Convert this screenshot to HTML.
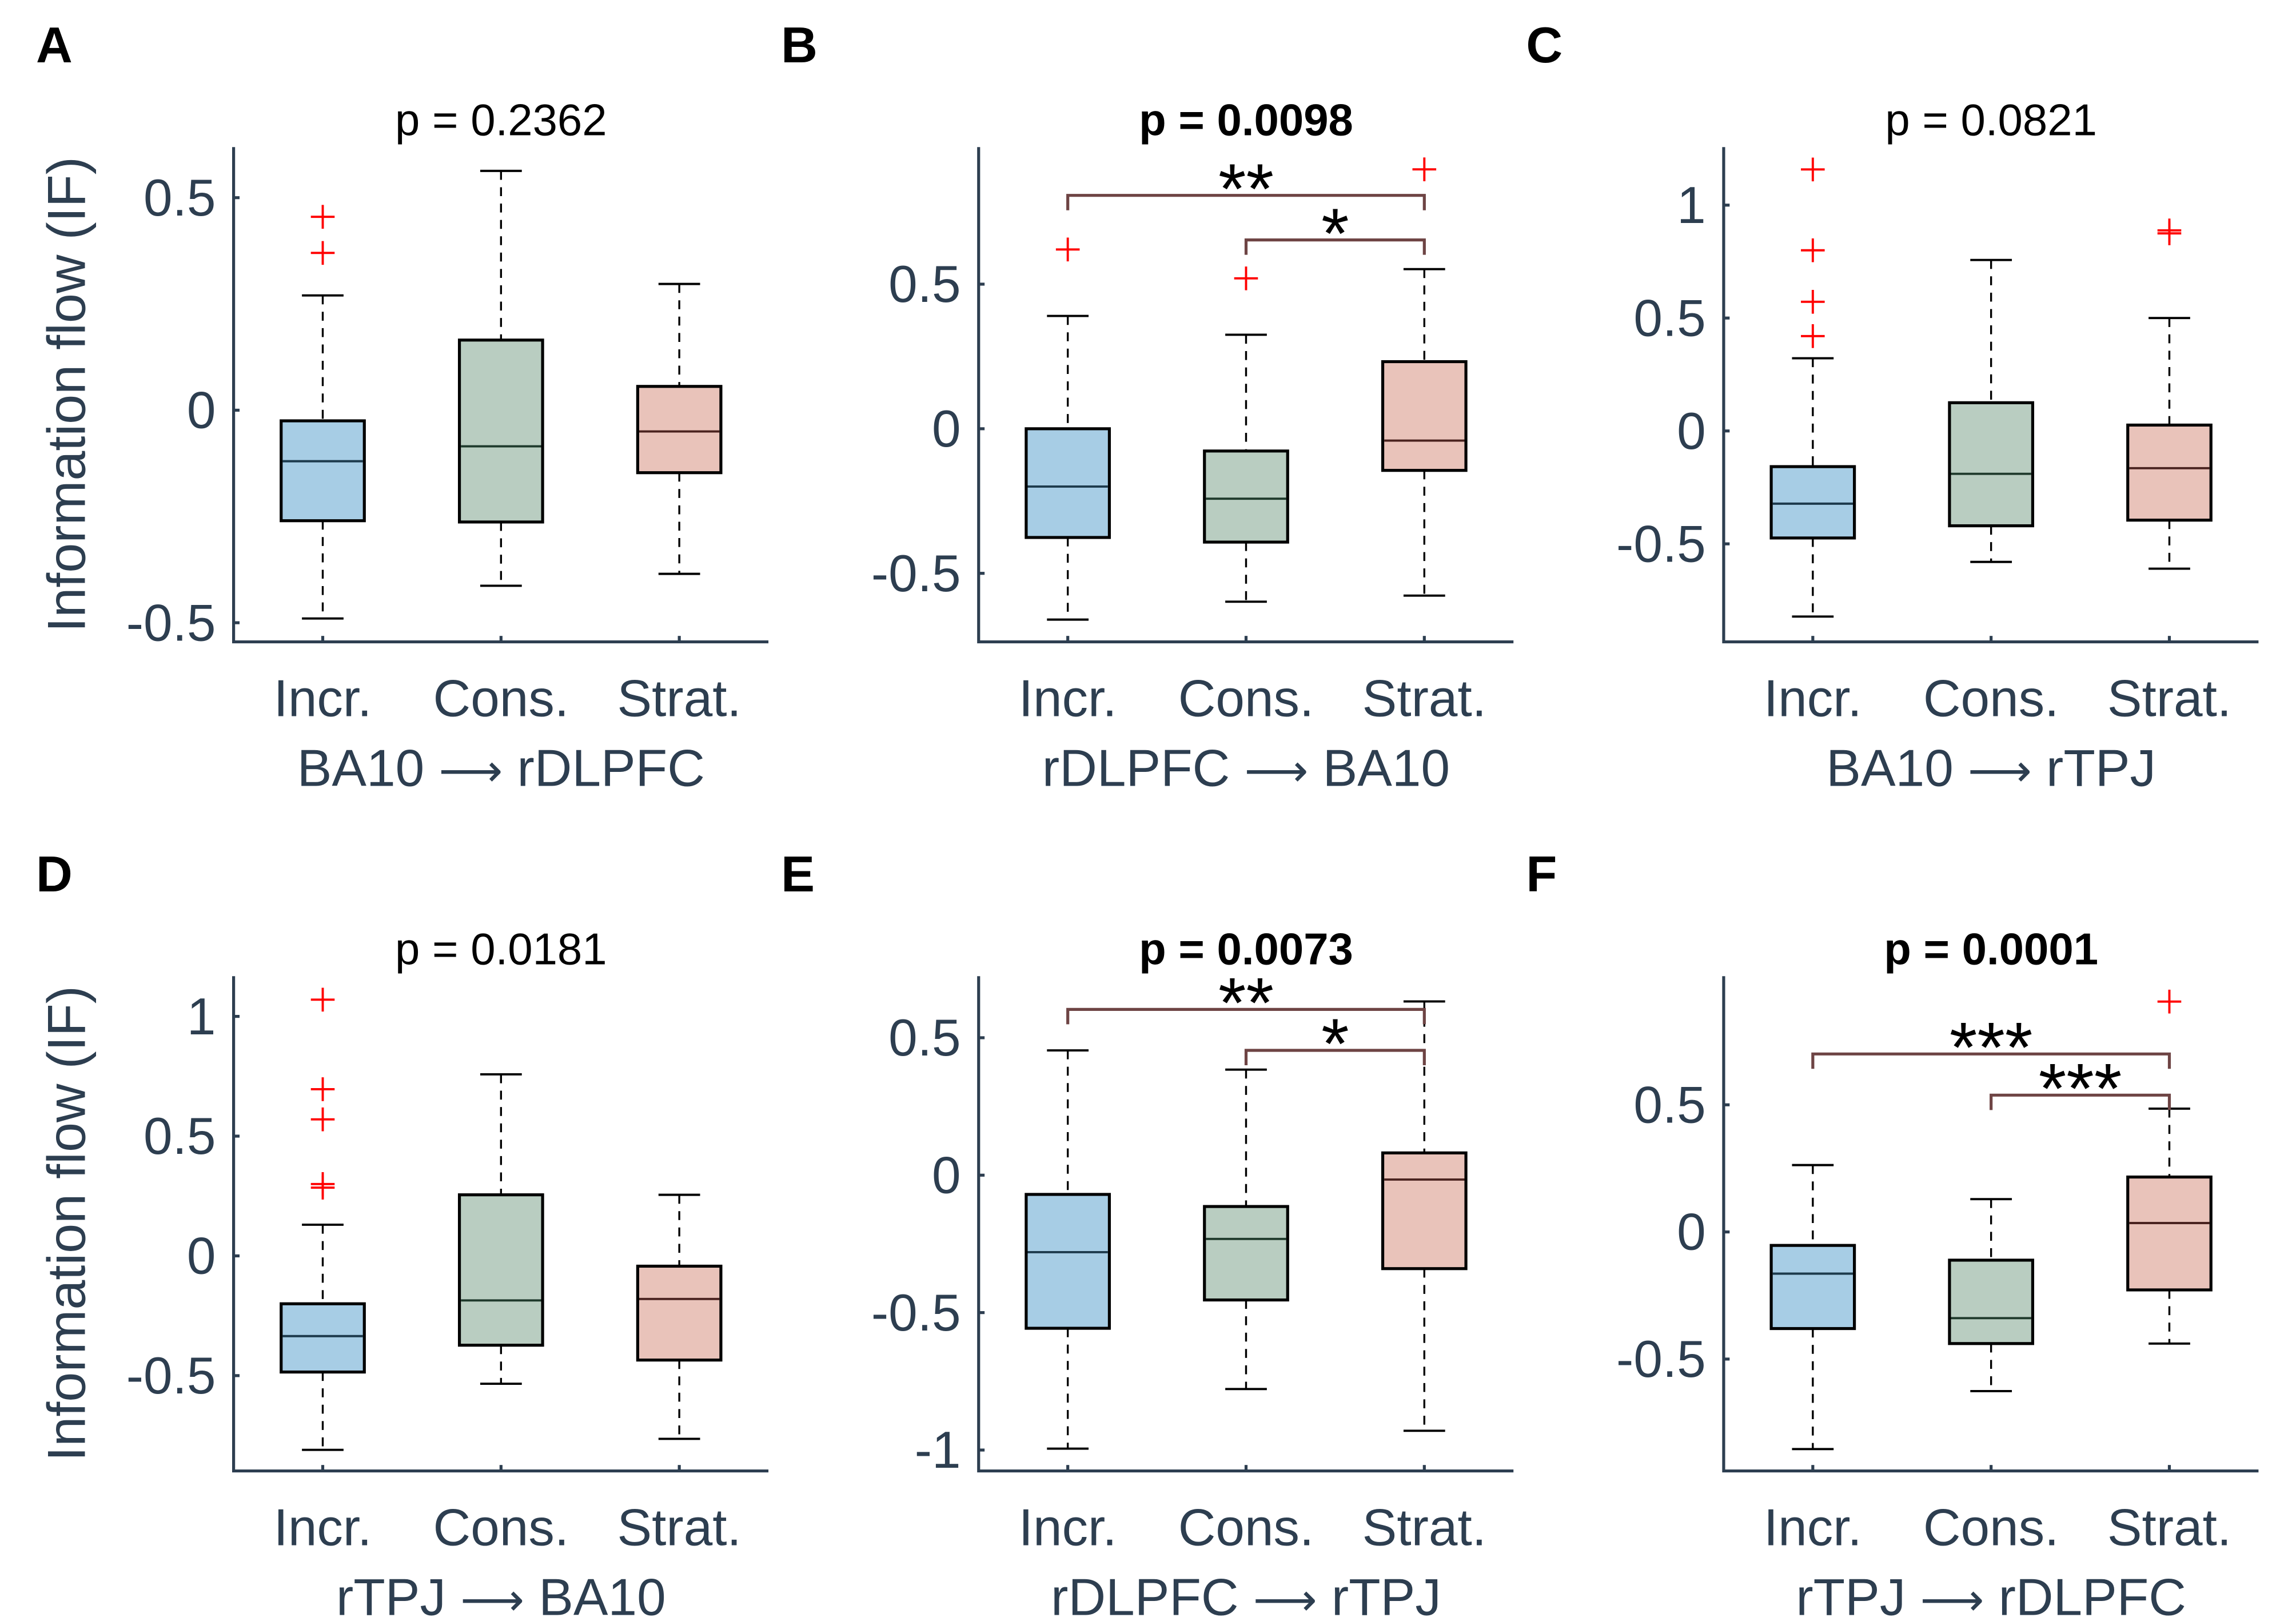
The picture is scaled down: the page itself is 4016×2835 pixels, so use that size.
<!DOCTYPE html>
<html><head><meta charset="utf-8"><style>
html,body{margin:0;padding:0;background:#fff;}
svg{display:block;}
text{font-family:"Liberation Sans",sans-serif;}
</style></head><body>
<svg id="fig" width="4016" height="2835" viewBox="0 0 1545 1091" xmlns="http://www.w3.org/2000/svg"></svg>
<script>
// ---- data (values per panel, per category: [whiskerLow, q1, median, q3, whiskerHigh]) ----
const categories = ["Incr.", "Cons.", "Strat."];
const panelLetters = ["A","B","C","D","E","F"];
const panelTitles = ["p = 0.2362","p = 0.0098","p = 0.0821","p = 0.0181","p = 0.0073","p = 0.0001"];
const titleBold = [false,true,false,false,true,true];
const xLabelFrom = ["BA10","rDLPFC","BA10","rTPJ","rDLPFC","rTPJ"];
const xLabelTo = ["rDLPFC","BA10","rTPJ","BA10","rTPJ","rDLPFC"];
const yLimits = [[-0.545,0.619],[-0.737,0.974],[-0.934,1.257],[-0.898,1.168],[-1.076,0.724],[-0.94,1.006]];
const yTicks = [[-0.5,0,0.5],[-0.5,0,0.5],[-0.5,0,0.5,1],[-0.5,0,0.5,1],[-1,-0.5,0,0.5],[-0.5,0,0.5]];
const yTickLabels = [["-0.5","0","0.5"],["-0.5","0","0.5"],["-0.5","0","0.5","1"],["-0.5","0","0.5","1"],["-1","-0.5","0","0.5"],["-0.5","0","0.5"]];
const statsA = [[-0.49,-0.26,-0.12,-0.025,0.27],[-0.413,-0.263,-0.085,0.165,0.563],[-0.385,-0.147,-0.05,0.056,0.297]];
const statsB = [[-0.66,-0.376,-0.2,0,0.39],[-0.598,-0.392,-0.242,-0.077,0.325],[-0.577,-0.144,-0.041,0.232,0.552]];
const statsC = [[-0.822,-0.474,-0.322,-0.158,0.322],[-0.58,-0.42,-0.19,0.125,0.757],[-0.61,-0.395,-0.165,0.026,0.5]];
const statsD = [[-0.81,-0.485,-0.335,-0.2,0.13],[-0.534,-0.373,-0.186,0.255,0.758],[-0.764,-0.435,-0.18,-0.043,0.255]];
const statsE = [[-0.995,-0.557,-0.28,-0.07,0.454],[-0.778,-0.454,-0.232,-0.114,0.384],[-0.93,-0.34,-0.016,0.081,0.632]];
const statsF = [[-0.854,-0.38,-0.164,-0.053,0.263],[-0.626,-0.439,-0.339,-0.111,0.129],[-0.439,-0.228,0.035,0.216,0.485]];
const outliersA = [[0.455,0.37],[],[]];
const outliersB = [[0.62],[0.52],[0.897]];
const outliersC = [[1.158,0.80,0.572,0.42],[],[0.888,0.875]];
const outliersD = [[1.07,0.696,0.57,0.30,0.285],[],[]];
const outliersE = [[],[],[]];
const outliersF = [[],[],[0.906]];
// significance brackets: [fromCategory, toCategory, yValue, label]
const bracketsB = [[0,2,0.807,"**"],[1,2,0.653,"*"]];
const bracketsE = [[0,2,0.603,"**"],[1,2,0.454,"*"]];
const bracketsF = [[0,2,0.70,"***"],[1,2,0.538,"***"]];

const allStats=[statsA,statsB,statsC,statsD,statsE,statsF];
const allOut=[outliersA,outliersB,outliersC,outliersD,outliersE,outliersF];
const allBr=[[],bracketsB,[],[],bracketsE,bracketsF];
const fills=["#a7cde5","#b9cdc1","#e9c3ba"];
const medCols=["#1d3a4c","#1f3a2c","#4a2320"];
const AX="#2d3e50";
const svg=document.getElementById('fig');
const NS="http://www.w3.org/2000/svg";
function mk(tag,attrs,parent){const e=document.createElementNS(NS,tag);for(const k in attrs)e.setAttribute(k,attrs[k]);(parent||svg).appendChild(e);return e;}

for(let p=0;p<6;p++){
  const col=p%3,row=Math.floor(p/3);
  const L=157+col*501.5, R=L+360, T=99+row*558, B=432+row*558;
  const g=mk('g',{});
  
  
  const [y0,y1]=yLimits[p];
  const ys=v=>B-(v-y0)/(y1-y0)*(B-T);
  const xs=i=>L+60+i*120;
  let t=mk('text',{x:L-133,y:T-57,'font-size':34,'font-weight':'bold',fill:'#000'},g);t.textContent=panelLetters[p];
  
  t=mk('text',{x:L+180,y:T-8,'font-size':30,'text-anchor':'middle',fill:'#000','font-weight':titleBold[p]?'bold':'normal'},g);t.textContent=panelTitles[p];
  
  let a=mk('path',{d:`M${L} ${T}V${B}H${R}`,stroke:AX,'stroke-width':2,fill:'none'},g);
  
  yTicks[p].forEach((v,i)=>{
    mk('line',{x1:L,x2:L+4,y1:ys(v),y2:ys(v),stroke:AX,'stroke-width':2},g);
    const tl=mk('text',{x:L-12,y:ys(v)+12,'font-size':35,'text-anchor':'end',fill:AX},g);tl.textContent=yTickLabels[p][i];
    
  });
  categories.forEach((c,i)=>{
    mk('line',{x1:xs(i),x2:xs(i),y1:B,y2:B-4,stroke:AX,'stroke-width':2},g);
    const tl=mk('text',{x:xs(i),y:B+50,'font-size':35,'text-anchor':'middle',fill:AX},g);tl.textContent=c;
    
  });
  t=mk('text',{x:L+180,y:B+97,'font-size':35,'text-anchor':'middle',fill:AX},g);
  
  const s1=mk('tspan',{},t);s1.textContent=xLabelFrom[p]+" ";
  const s2=mk('tspan',{'font-family':'DejaVu Sans, sans-serif','font-size':30},t);s2.textContent="\u27F6";
  const s3=mk('tspan',{},t);s3.textContent=" "+xLabelTo[p];
  if(col===0){
    t=mk('text',{x:0,y:0,'font-size':36,'text-anchor':'middle',fill:AX,transform:`translate(57,${(T+B)/2}) rotate(-90)`},g);t.textContent="Information flow (IF)";
    
  }
  allStats[p].forEach((s,i)=>{
    const x=xs(i);
    const bg=mk('g',{},g);
    
    
    mk('line',{x1:x,x2:x,y1:ys(s[4]),y2:ys(s[3]),stroke:'#000','stroke-width':1.3,'stroke-dasharray':'6 5'},bg);
    mk('line',{x1:x,x2:x,y1:ys(s[1]),y2:ys(s[0]),stroke:'#000','stroke-width':1.3,'stroke-dasharray':'6 5'},bg);
    mk('line',{x1:x-14,x2:x+14,y1:ys(s[4]),y2:ys(s[4]),stroke:'#000','stroke-width':1.5},bg);
    mk('line',{x1:x-14,x2:x+14,y1:ys(s[0]),y2:ys(s[0]),stroke:'#000','stroke-width':1.5},bg);
    mk('rect',{x:x-28,y:ys(s[3]),width:56,height:ys(s[1])-ys(s[3]),fill:fills[i],stroke:'#000','stroke-width':2},bg);
    mk('line',{x1:x-27,x2:x+27,y1:ys(s[2]),y2:ys(s[2]),stroke:medCols[i],'stroke-width':1.5},bg);
    allOut[p][i].forEach(v=>{
      const o=mk('path',{d:`M${x-8} ${ys(v)}h16M${x} ${ys(v)-8}v16`,stroke:'#f00','stroke-width':1.5},bg);
      
    });
  });
  allBr[p].forEach(br=>{
    const x1=xs(br[0]),x2=xs(br[1]),y=ys(br[2]);
    const bk=mk('path',{d:`M${x1} ${y+10}V${y}H${x2}V${y+10}`,stroke:'#6e4444','stroke-width':2,fill:'none'},g);
    
    const st=mk('text',{x:(x1+x2)/2,y:y+12,'font-size':48,'text-anchor':'middle',fill:'#000'},g);st.textContent=br[3];
    
  });
}
</script>
</body></html>
